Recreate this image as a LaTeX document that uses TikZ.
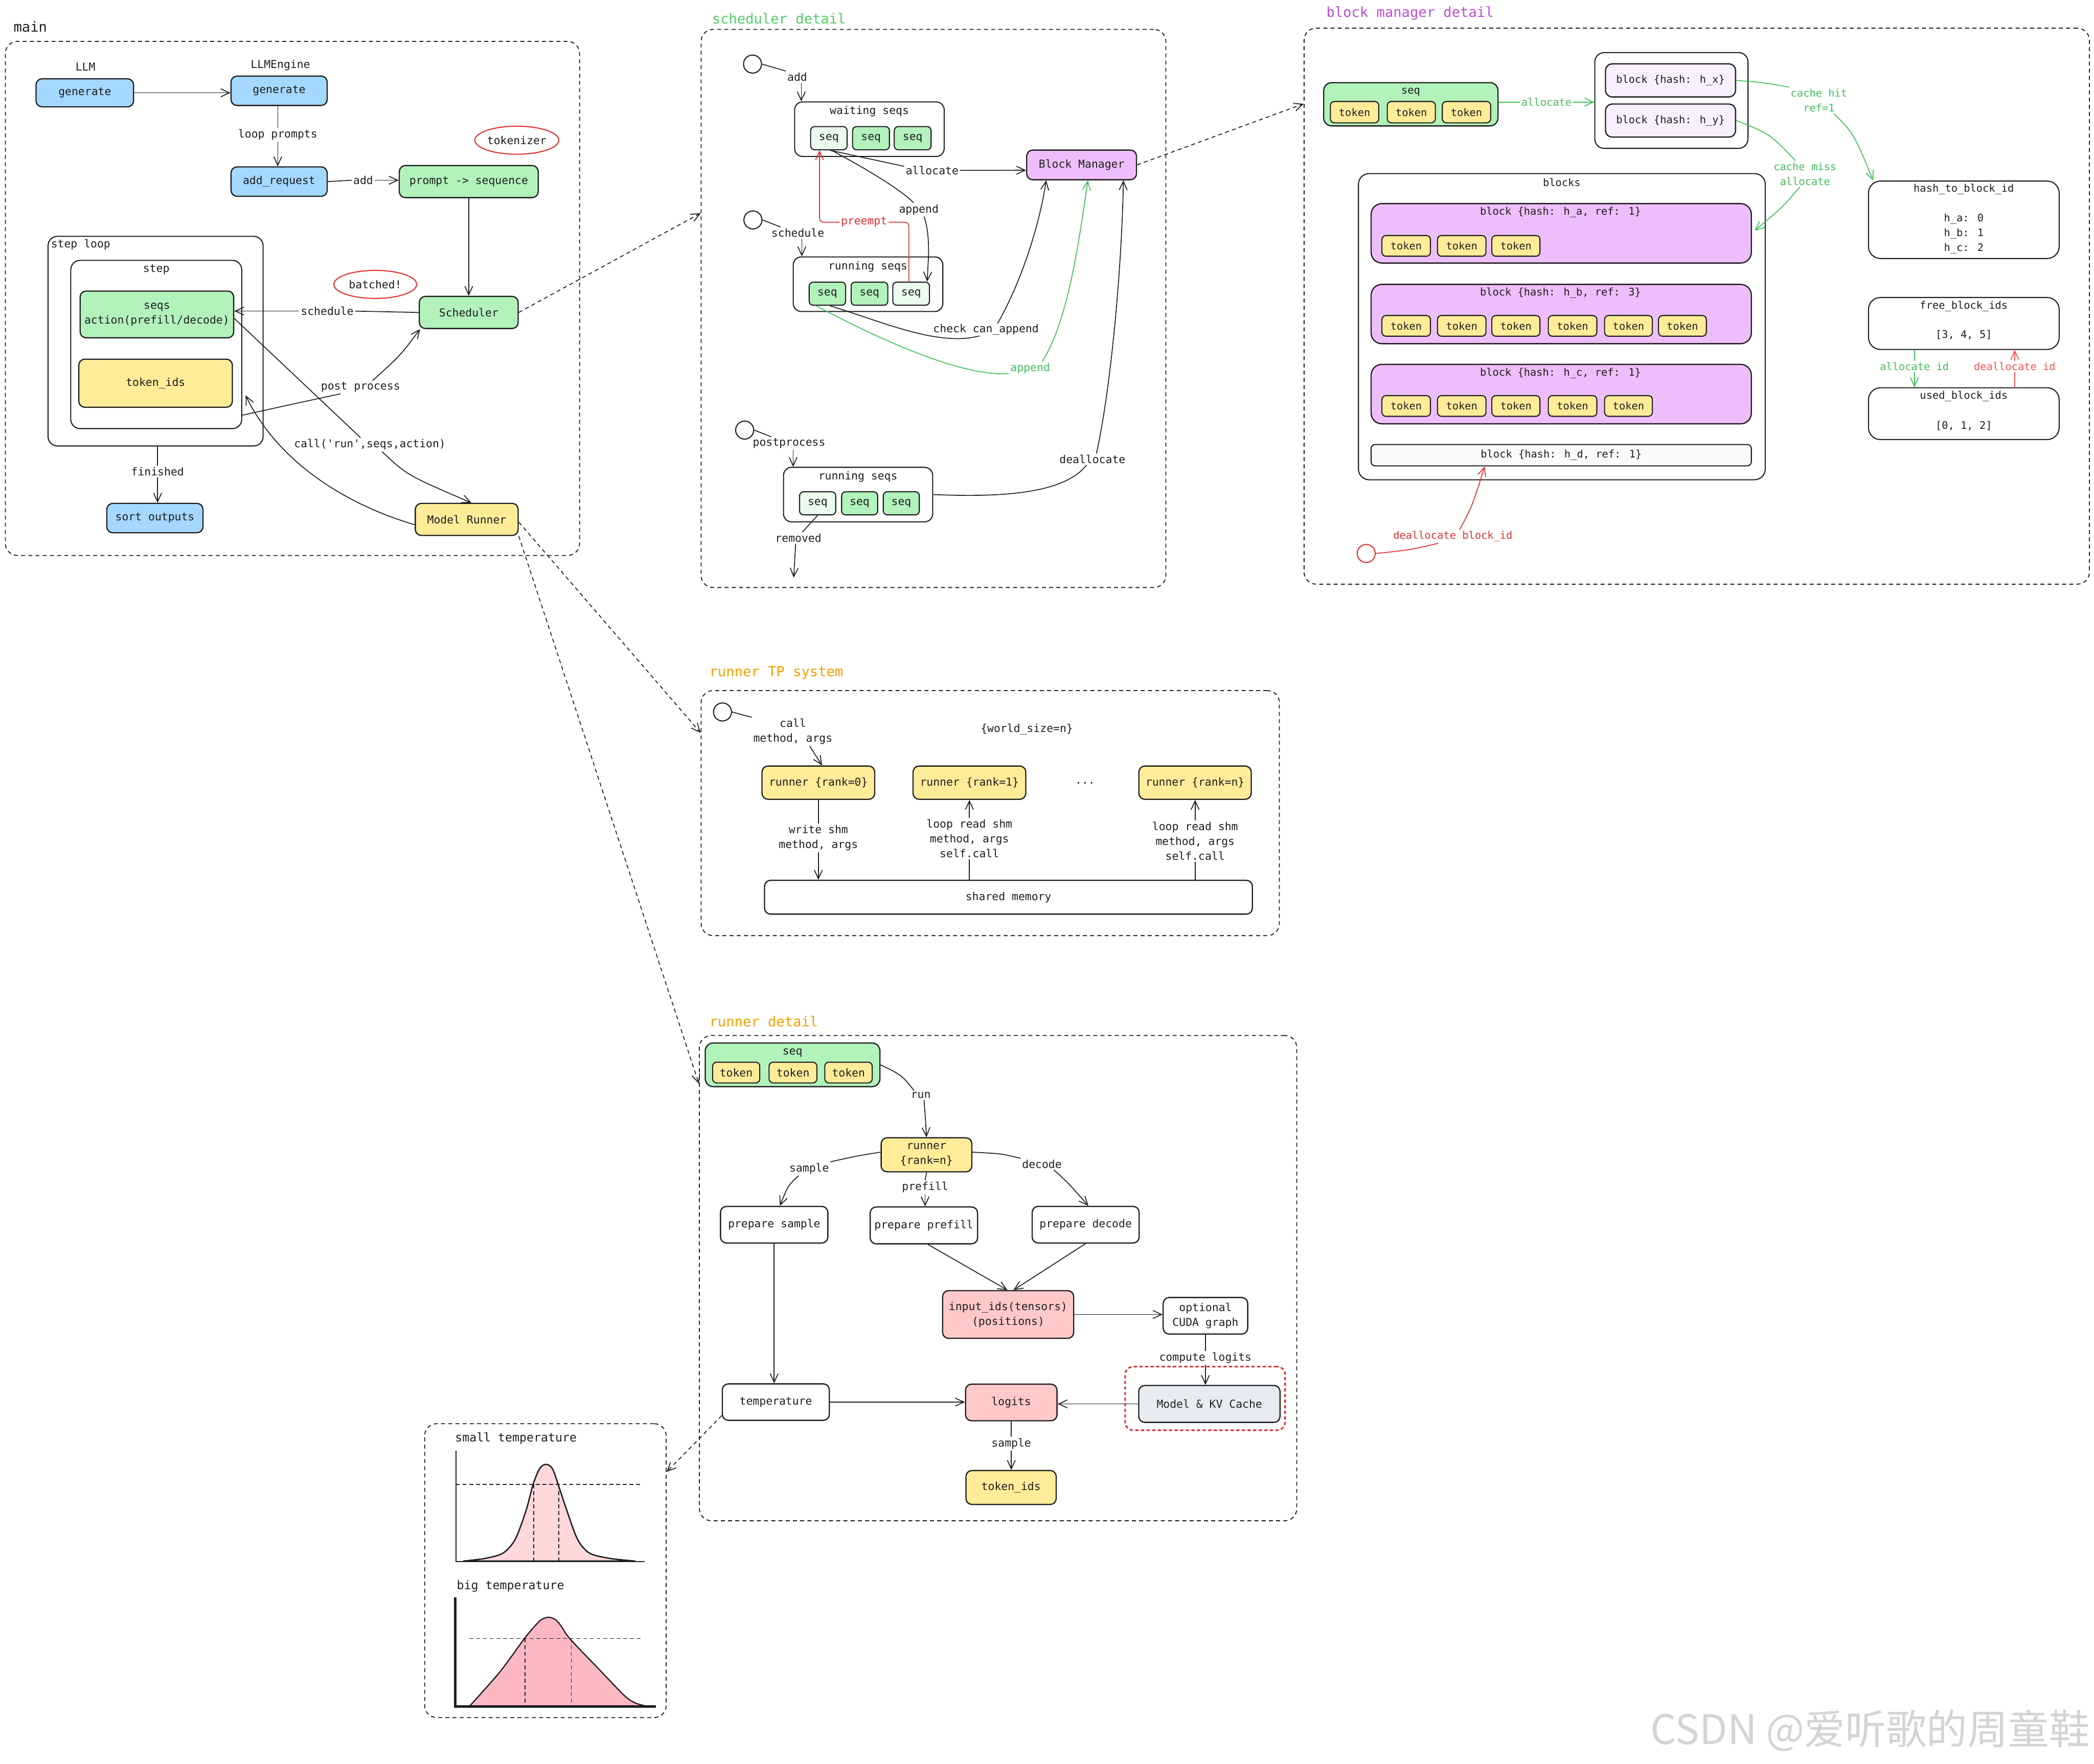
\documentclass[tikz,border=0pt]{standalone}
\usepackage{fontspec}
\setmainfont{DejaVu Sans Mono}
\newfontfamily\cjk{Noto Sans CJK SC}
\usetikzlibrary{arrows.meta,fit,shapes.geometric,calc}
\definecolor{ink}{HTML}{1E1E1E}
\definecolor{cblue}{HTML}{A5D8FF}
\definecolor{cgreenf}{HTML}{B2F2BB}
\definecolor{clgreen}{HTML}{EBFBEE}
\definecolor{cyellow}{HTML}{FFEC99}
\definecolor{cpurple}{HTML}{EEBEFA}
\definecolor{clpurple}{HTML}{F8F0FC}
\definecolor{cpink}{HTML}{FFC9C9}
\definecolor{cgray}{HTML}{E9ECEF}
\definecolor{tgreen}{HTML}{40C057}
\definecolor{tgreenl}{HTML}{51CF66}
\definecolor{tpurple}{HTML}{BE4BDB}
\definecolor{torange}{HTML}{F59F00}
\definecolor{cred}{HTML}{E03131}
\definecolor{cred2}{HTML}{FA5252}
\definecolor{cpinka}{HTML}{FFD8DC}
\definecolor{cpinkb}{HTML}{FBB8C4}
\newcommand\fsMain{\fontsize{8.2}{11.1}\selectfont}
\newcommand\fsBlk{\fontsize{7.8}{11.1}\selectfont}
\newcommand\fsTtl{\fontsize{10.4}{12}\selectfont}
\newcommand\fsTmp{\fontsize{8.9}{11}\selectfont}
% box node from corner coordinates: style, name, x1, y1, x2, y2, text
\newcommand\bx[7]{\node[#1, minimum width={(#5-#3)*1pt}, minimum height={(#6-#4)*1pt}] (#2) at ({(#3+#5)/2},{(#4+#6)/2}) {#7};}
\tikzset{
  box/.style={draw=ink, line width=0.9pt, rounded corners=4.5pt, inner sep=0pt, align=center, font=\fsMain},
  sbox/.style={box, rounded corners=3pt, line width=0.8pt},
  tok/.style={sbox, fill=cyellow},
  tokb/.style={sbox, fill=cyellow, font=\fsBlk},
  grp/.style={draw=ink, line width=0.8pt, rounded corners=8pt, inner sep=0pt},
  cont/.style={draw=ink, line width=0.7pt, dash pattern=on 3pt off 2.4pt, rounded corners=9pt, inner sep=0pt},
  lbl/.style={inner sep=1pt, font=\fsMain, align=center},
  blbl/.style={lbl, font=\fsBlk},
  ttl/.style={anchor=west, inner sep=0pt, font=\fsTtl},
  arr/.style={line width=0.65pt, -{Straight Barb[length=6.5pt,width=6pt]}},
  ln/.style={line width=0.65pt},
  darr/.style={arr, dash pattern=on 3pt off 2.4pt},
  dot/.style={circle, draw=ink, line width=0.8pt, inner sep=0pt, minimum size=13.5pt},
  oval/.style={ellipse, draw=cred, line width=0.8pt, inner sep=0pt, font=\fsMain},
  tdash/.style={line width=0.7pt, dash pattern=on 3pt off 2pt},
}
\begin{document}
\begin{tikzpicture}[x=1pt,y=-1pt,color=ink]
\useasboundingbox (0,0) rectangle (1568,1321);
\fill[white] (0,0) rectangle (1568,1321);

%%%%%%%%%%%%%%%% MAIN
\node[ttl] (tmain) at (10,20) {main};
\node[cont, fit={(4,31)(434,416)}] (mainc) {};
\node[lbl] (llml) at (64,50) {LLM};
\bx{box, fill=cblue}{gen1}{27}{59}{100}{80}{generate}
\node[lbl] (engl) at (210,49) {LLMEngine};
\bx{box, fill=cblue}{gen2}{173}{57}{245}{79}{generate}
\draw[arr] (gen1.east) -- (gen1.east -| gen2.west);
\node[lbl] (loopl) at (208,101) {loop prompts};
\bx{box, fill=cblue}{addreq}{173}{125}{245}{147}{add\_request}
\draw[ln] (loopl.north |- gen2.south) -- (loopl.north);
\draw[arr] (loopl.south) -- (loopl.south |- addreq.north);
\bx{box, fill=cgreenf}{p2s}{299}{124}{403}{148}{prompt -> sequence}
\node[lbl] (addl0) at (272,135) {add};
\draw[ln] (addreq.east) -- (addl0.west);
\draw[arr] (addl0.east) -- (addl0.east -| p2s.west);
\node[oval, minimum width=61pt, minimum height=21pt] (tokz) at (387,105) {tokenizer};
\bx{box, fill=cgreenf}{sched}{314}{222}{388}{246}{Scheduler}
\draw[arr] (p2s.south) -- (p2s.south |- sched.north);
\node[oval, minimum width=62pt, minimum height=21pt] (batch) at (281,213) {batched!};
\node[grp, rounded corners=7pt, fit={(36,177)(197,334)}] (sloop) {};
\node[lbl, anchor=west, inner sep=0pt] (sloopl) at (38,183) {step loop};
\node[grp, rounded corners=7pt, fit={(53,195)(181,321)}] (stp) {};
\node[lbl] (stpl) at (117,202) {step};
\bx{box, fill=cgreenf}{seqs}{60}{218}{175}{253}{seqs\\action(prefill/decode)}
\bx{box, fill=cyellow}{tids}{59}{269}{174}{305}{token\_ids}
\node[lbl] (schl0) at (245,233) {schedule};
\draw[ln] (sched.west) -- (schl0.east);
\draw[arr] (schl0.west) -- (schl0.west -| seqs.east);
\bx{box, fill=cyellow}{mrun}{311}{377}{388}{401}{Model Runner}
\node[lbl] (ppl) at (270,290) {post process};
\draw[ln] ([yshift=-53pt]stp.east) .. controls (222,302) .. ([xshift=-15pt]ppl.south);
\draw[arr] ([xshift=9pt]ppl.north) .. controls (300,266) .. ([xshift=1pt]sched.south west);
\node[lbl] (calll) at (277,333) {call(\textquotesingle run\textquotesingle,seqs,action)};
\draw[ln] ([yshift=-3pt]seqs.east) -- ([xshift=-7pt]calll.north);
\draw[arr] ([xshift=9pt]calll.south) .. controls (305,356) .. ([xshift=3.5pt]mrun.north);
\draw[arr] ([yshift=-4pt]mrun.west) .. controls (250,375) and (205,340) .. ([xshift=2.5pt,yshift=-38pt]stp.east);
\node[lbl] (finl) at (118,353) {finished};
\bx{box, fill=cblue}{sortout}{80}{377}{152}{399}{sort outputs}
\draw[ln] (finl.north |- sloop.south) -- (finl.north);
\draw[arr] (finl.south) -- (finl.south |- sortout.north);

%%%%%%%%%%%%%%%% SCHEDULER DETAIL
\node[ttl, text=tgreenl] (tsd) at (533,14) {scheduler detail};
\node[cont, fit={(525,22)(873,440)}] (sdc) {};
\node[dot] (d1) at (563.5,48) {};
\node[lbl] (addl1) at (597,57.6) {add};
\draw[ln] (d1.east) -- (addl1.north west);
\node[grp, rounded corners=6pt, fit={(595,76.3)(707,117.2)}] (wait) {};
\node[lbl] (waitl) at (651,83.5) {waiting seqs};
\draw[arr] ([xshift=3pt]addl1.south) -- ([xshift=3pt]addl1.south |- wait.north);
\bx{sbox, fill=clgreen}{w1}{607}{94.8}{634.3}{112.2}{seq}
\bx{sbox, fill=cgreenf}{w2}{638.4}{94.8}{666}{112.2}{seq}
\bx{sbox, fill=cgreenf}{w3}{669.6}{94.8}{697.2}{112.2}{seq}
\bx{box, fill=cpurple}{bm}{768.8}{112.4}{851}{134.6}{Block Manager}
\node[lbl] (allocl) at (698,127.6) {allocate};
\draw[ln] ([xshift=1pt]w1.south) -- ([yshift=3pt]allocl.west);
\draw[arr] (allocl.east) -- ([yshift=-4pt]bm.west);
\node[dot] (d2) at (563.8,164.7) {};
\node[lbl] (schl1) at (597.4,174.4) {schedule};
\draw[ln] (d2.east) -- ([xshift=8pt]schl1.north west);
\node[grp, rounded corners=6pt, fit={(594,192.4)(706,233.3)}] (run1) {};
\node[lbl] (run1l) at (649.8,199.7) {running seqs};
\draw[arr] ([xshift=3pt]schl1.south) -- ([xshift=3pt]schl1.south |- run1.north);
\bx{sbox, fill=cgreenf}{r1}{605.9}{211.3}{633.2}{228.6}{seq}
\bx{sbox, fill=cgreenf}{r2}{637.3}{211.3}{664.8}{228.6}{seq}
\bx{sbox, fill=clgreen}{r3}{668.5}{211.3}{696}{228.6}{seq}
\node[lbl] (appl) at (688,157) {append};
\draw[ln] ([xshift=2pt]w1.south) .. controls (648,126) and (676,143) .. ([xshift=-4pt]appl.north);
\draw[arr] ([xshift=4pt]appl.south) .. controls (697,178) and (695,195) .. ([xshift=12pt]r3.north);
\node[lbl, text=cred] (prel) at (647,166.4) {preempt};
\draw[cred, ln, rounded corners=3pt] ([xshift=-1.75pt]r3.north) |- (prel.east);
\draw[arr, cred, rounded corners=3pt] (prel.west) -| ([xshift=-7pt]w1.south);
\draw[arr] ([xshift=2pt]r1.south) .. controls (660,241) and (690,254) .. (718.7,253.6) .. controls (735,253) and (742,249) .. (747.5,241.4) .. controls (765,210) and (778,170) .. ([xshift=-26.5pt]bm.south);
\node[lbl, fill=white, inner sep=0.5pt] (ccl) at (738.3,246.8) {check can\_append};
\node[lbl, text=tgreen] (appg) at (771.4,275.9) {append};
\draw[tgreen, ln] ([xshift=-8.4pt]r1.south) .. controls (660,255) and (720,282) .. ([yshift=-4pt]appg.west);
\draw[arr, tgreen] ([xshift=9pt]appg.north) .. controls (800,240) and (808,180) .. ([xshift=4.7pt]bm.south);
\node[lbl] (deall) at (818,344) {deallocate};
\node[grp, rounded corners=6pt, fit={(586.7,350)(698.4,390.8)}] (run2) {};
\draw[ln] (run2.east) .. controls (740,372) and (795,372) .. ([xshift=-4.5pt]deall.south);
\draw[arr] ([xshift=3pt]deall.north) .. controls (832,290) and (840,200) .. ([xshift=31.3pt]bm.south);
\node[dot] (d3) at (557.6,322.1) {};
\node[lbl] (ppl2) at (590.9,332.1) {postprocess};
\draw[ln] (d3.east) -- ([xshift=15pt]ppl2.north west);
\draw[arr] ([xshift=3pt]ppl2.south) -- ([xshift=3pt]ppl2.south |- run2.north);
\node[lbl] (run2l) at (642.4,356.9) {running seqs};
\bx{sbox, fill=clgreen}{q1}{598.7}{368.3}{625.8}{385.6}{seq}
\bx{sbox, fill=cgreenf}{q2}{630.2}{368.3}{657.2}{385.6}{seq}
\bx{sbox, fill=cgreenf}{q3}{661.4}{368.3}{688.4}{385.6}{seq}
\node[lbl] (reml) at (597.8,402.8) {removed};
\coordinate (remend) at (594.3,432.6);
\draw[ln] (q1.south) -- ([xshift=3pt]reml.north);
\draw[arr] ([xshift=-2pt]reml.south) -- (remend);

%%%%%%%%%%%%%%%% BLOCK MANAGER DETAIL
\node[ttl, text=tpurple] (tbm) at (993,10) {block manager detail};
\node[cont, fit={(976.5,21.1)(1564.5,437.5)}] (bmc) {};
\node[box, fill=cgreenf, rounded corners=6pt, fit={(991.2,61.9)(1121.7,94.3)}] (bseq) {};
\node[blbl] (bseql) at (1056.4,68.9) {seq};
\foreach \i/\xa/\xb in {1/996.2/1032.4, 2/1038.8/1074.8, 3/1080/1116.2}
  {\bx{tokb}{bs\i}{\xa}{76}{\xb}{92}{token}}
\node[grp, rounded corners=7pt, fit={(1194.2,39.4)(1308.9,111.1)}] (cand) {};
\bx{box, fill=clpurple, font=\fsBlk, rounded corners=5pt}{bhx}{1202.2}{47.8}{1299.6}{72.6}{block \{hash: h\_x\}}
\bx{box, fill=clpurple, font=\fsBlk, rounded corners=5pt}{bhy}{1202.2}{77.9}{1299.6}{102.7}{block \{hash: h\_y\}}
\node[blbl, text=tgreen] (allocg) at (1158,76.5) {allocate};
\draw[tgreen, ln] (bseq.east |- allocg.west) -- (allocg.west);
\draw[arr, tgreen] (allocg.east) -- (allocg.east -| cand.west);
\node[grp, rounded corners=8pt, fit={(1017.2,130)(1321.8,359.3)}] (blocks) {};
\node[blbl] (blocksl) at (1169.4,136.5) {blocks};
\node[box, fill=cpurple, rounded corners=8pt, fit={(1026.7,152.5)(1311.4,197)}] (ha) {};
\node[blbl] (hal) at (1168.5,159) {block \{hash: h\_a, ref: 1\}};
\foreach \i/\xa/\xb in {1/1034.8/1071.1, 2/1076.4/1112.7, 3/1117.1/1153.1}
  {\bx{tokb}{hat\i}{\xa}{176.4}{\xb}{191.9}{token}}
\node[box, fill=cpurple, rounded corners=8pt, fit={(1026.7,213)(1311.4,257.4)}] (hb) {};
\node[blbl] (hbl) at (1168.5,219.5) {block \{hash: h\_b, ref: 3\}};
\foreach \i/\xa/\xb in {1/1034.8/1071.1, 2/1076.4/1112.7, 3/1117.1/1153.1, 4/1159.4/1195.7, 5/1201.5/1237.3, 6/1241.9/1277.7}
  {\bx{tokb}{hbt\i}{\xa}{236.3}{\xb}{251.8}{token}}
\node[box, fill=cpurple, rounded corners=8pt, fit={(1026.7,272.9)(1311.4,317.4)}] (hc) {};
\node[blbl] (hcl) at (1168.5,279.4) {block \{hash: h\_c, ref: 1\}};
\foreach \i/\xa/\xb in {1/1034.8/1071.1, 2/1076.4/1112.7, 3/1117.1/1153.1, 4/1159.4/1195.7, 5/1201.5/1237.3}
  {\bx{tokb}{hct\i}{\xa}{296.3}{\xb}{311.8}{token}}
\bx{box, fill=black!2, font=\fsBlk, rounded corners=3pt, line width=0.8pt}{hd}{1026.7}{332.9}{1311.4}{348.9}{block \{hash: h\_d, ref: 1\}}
\node[grp, rounded corners=9pt, fit={(1399.1,135.6)(1541.9,193.6)}] (h2b) {};
\node[blbl] (h2bt) at (1470.5,141.5) {hash\_to\_block\_id};
\node[blbl, align=left] (h2bv) at (1470.5,175) {h\_a: 0\\h\_b: 1\\h\_c: 2};
\node[blbl, text=tgreen] (chit) at (1362,75.1) {cache hit\\ref=1};
\draw[tgreen, ln] (bhx.east) .. controls (1322,62) .. (chit.north west);
\draw[arr, tgreen] ([xshift=11pt]chit.south) .. controls (1388,100) .. ([xshift=4pt]h2b.north west);
\node[blbl, text=tgreen] (cmiss) at (1351.6,130.3) {cache miss\\allocate};
\draw[tgreen, ln] (bhy.east) .. controls (1325,100) .. ([xshift=-7pt]cmiss.north);
\draw[arr, tgreen] ([xshift=-4pt]cmiss.south) .. controls (1335,155) .. ([xshift=2pt,yshift=2pt]ha.east);
\node[grp, rounded corners=9pt, fit={(1399.1,222.8)(1541.9,261.7)}] (fb) {};
\node[blbl] (fbt) at (1470.5,229.3) {free\_block\_ids};
\node[blbl] (fbv) at (1470.5,251) {[3, 4, 5]};
\node[grp, rounded corners=9pt, fit={(1399.1,290.4)(1541.9,329.2)}] (ub) {};
\node[blbl] (ubt) at (1470.5,296.8) {used\_block\_ids};
\node[blbl] (ubv) at (1470.5,318.8) {[0, 1, 2]};
\node[blbl, text=tgreen] (aidl) at (1433.5,274.6) {allocate id};
\draw[tgreen, ln] (aidl.north |- fb.south) -- (aidl.north);
\draw[arr, tgreen] (aidl.south) -- (aidl.south |- ub.north);
\node[blbl, text=cred2] (didl) at (1508.6,274.6) {deallocate id};
\draw[cred2, ln] (didl.south |- ub.north) -- (didl.south);
\draw[arr, cred2] (didl.north) -- (didl.north |- fb.south);
\node[dot, draw=cred] (d4) at (1023,414.5) {};
\node[blbl, text=cred] (dbal) at (1087.9,401.8) {deallocate block\_id};
\draw[cred, ln] (d4.east) .. controls (1055,412) .. ([xshift=-11pt]dbal.south);
\draw[arr, cred] ([xshift=5pt]dbal.north) .. controls (1102,380) .. ([xshift=-57.3pt]hd.south);

%%%%%%%%%%%%%%%% RUNNER TP SYSTEM
\node[ttl, text=torange] (ttp) at (531,504) {runner TP system};
\node[cont, fit={(525,517.2)(958,700.7)}] (tpc) {};
\node[dot] (d5) at (541,533.2) {};
\node[lbl] (calll2) at (593.7,548) {call\\method, args};
\draw[ln] (d5.east) -- (calll2.north west);
\bx{box, fill=cyellow}{rk0}{570.6}{573.7}{655}{598.6}{runner \{rank=0\}}
\bx{box, fill=cyellow}{rk1}{683.7}{573.7}{768.1}{598.6}{runner \{rank=1\}}
\bx{box, fill=cyellow}{rkn}{852.8}{573.7}{936.9}{598.6}{runner \{rank=n\}}
\draw[arr] ([xshift=12.6pt]calll2.south) -- ([xshift=2.8pt]rk0.north);
\node[lbl] (wsl) at (768.9,546.3) {\{world\_size=n\}};
\node[lbl] (dots) at (812.5,586.5) {...};
\bx{box}{shm}{572.5}{659.3}{937.8}{684.6}{shared memory}
\node[lbl] (wrl) at (612.8,627.5) {write shm\\method, args};
\draw[ln] (rk0.south) -- (rk0.south |- wrl.north);
\draw[arr] (wrl.south) -- (wrl.south |- shm.north);
\node[lbl] (lr1) at (725.9,628.1) {loop read shm\\method, args\\self.call};
\draw[ln] (lr1.south |- shm.north) -- (lr1.south);
\draw[arr] (lr1.north) -- (lr1.north |- rk1.south);
\node[lbl] (lrn) at (894.9,630) {loop read shm\\method, args\\self.call};
\draw[ln] (lrn.south |- shm.north) -- (lrn.south);
\draw[arr] (lrn.north) -- (lrn.north |- rkn.south);

%%%%%%%%%%%%%%%% RUNNER DETAIL
\node[ttl, text=torange] (trd) at (531,765) {runner detail};
\node[cont, fit={(523.7,775.5)(971,1138.9)}] (rdc) {};
\node[box, fill=cgreenf, rounded corners=6pt, fit={(528.1,781.1)(658.9,813.8)}] (rseq) {};
\node[lbl] (rseql) at (593.4,788.4) {seq};
\foreach \i/\xa/\xb in {1/533.6/568.9, 2/575.9/611.7, 3/617.6/653.1}
  {\bx{tok}{rt\i}{\xa}{795.5}{\xb}{811}{token}}
\node[lbl] (runl) at (689.5,820.3) {run};
\bx{box, fill=cyellow}{rrun}{659.8}{852.1}{727.7}{877.6}{runner\\\{rank=n\}}
\draw[ln] (rseq.east) .. controls (675,805) .. ([xshift=-5pt]runl.north);
\draw[arr] ([xshift=2.4pt]runl.south) .. controls (693,838) .. (rrun.north);
\node[lbl] (samp1) at (605.9,875.3) {sample};
\bx{box}{psamp}{539.5}{903.5}{619.9}{930.9}{prepare sample}
\bx{box}{ppre}{651.6}{903.9}{732}{931.5}{prepare prefill}
\bx{box}{pdec}{772.9}{903.5}{853}{930.9}{prepare decode}
\draw[ln] ([yshift=2pt]rrun.west) .. controls (640,866) .. (samp1.north east);
\draw[arr] ([xshift=-8pt]samp1.south) .. controls (590,888) .. ([xshift=4.3pt]psamp.north);
\node[lbl] (pfl) at (692.7,889.2) {prefill};
\draw[ln] (rrun.south) -- (pfl.north);
\draw[arr] (pfl.south) -- (pfl.south |- ppre.north);
\node[lbl] (decl) at (780.2,871.8) {decode};
\draw[ln] ([yshift=2pt]rrun.east) .. controls (750,864) .. (decl.north west);
\draw[arr] ([xshift=9pt]decl.south) .. controls (800,886) .. ([xshift=2pt]pdec.north);
\bx{box, fill=cpink}{inp}{705.8}{966.6}{804}{1002.3}{input\_ids(tensors)\\(positions)}
\draw[arr] ([xshift=3pt]ppre.south) -- ([xshift=-0.5pt]inp.north);
\draw[arr] (pdec.south) -- ([xshift=4pt]inp.north);
\bx{box}{opt}{871}{971.7}{934.3}{999.1}{optional\\CUDA graph}
\draw[arr] (inp.east) -- (inp.east -| opt.west);
\node[lbl] (cll) at (902.6,1017) {compute logits};
\node[fit={(842.5,1023.5)(962.3,1071.1)}, draw=cred, line width=1.2pt, dash pattern=on 2.4pt off 1.8pt, rounded corners=6pt, inner sep=0pt] (redb) {};
\bx{box, fill=cgray}{mkv}{852.7}{1037.6}{958.5}{1065.2}{Model \& KV Cache}
\draw[ln] (opt.south) -- (opt.south |- cll.north);
\draw[arr] (cll.south) -- (cll.south |- mkv.north);
\bx{box, fill=cpink}{logit}{723}{1036.6}{791.5}{1064}{logits}
\bx{box}{temp}{540.9}{1036.4}{621}{1063.7}{temperature}
\draw[arr] (mkv.west) -- (mkv.west -| logit.east);
\draw[arr] (temp.east) -- (temp.east -| logit.west);
\draw[arr] (psamp.south) -- (psamp.south |- temp.north);
\node[lbl] (samp2) at (757.25,1081.3) {sample};
\bx{box, fill=cyellow}{tid2}{723.3}{1101.3}{790.9}{1126.7}{token\_ids}
\draw[ln] (logit.south) -- (samp2.north);
\draw[arr] (samp2.south) -- (samp2.south |- tid2.north);

%%%%%%%%%%%%%%%% TEMPERATURE
\node[cont, fit={(318,1066.2)(498.8,1286.3)}] (tc) {};
\node[anchor=west, inner sep=0pt, font=\fsTmp] (smt) at (340.6,1077.4) {small temperature};
\filldraw[fill=cpinka, line width=1pt] plot[smooth, tension=0.55] coordinates {(346.8,1169.1) (362,1167.3) (374.3,1164.3) (380.5,1159.9) (386.7,1151) (394.2,1130.2) (399.2,1111.6) (404.2,1099.7) (408.9,1096.7) (413.5,1099.7) (417.9,1111.6) (424.1,1130.2) (431.6,1151) (437.5,1159.9) (444,1164.3) (458,1167.3) (475.8,1169.1)} -- cycle;
\draw[tdash] (341.3,1111.6) -- (480.7,1111.6);
\draw[tdash] (399.5,1111.6) -- (399.5,1169.6);
\draw[tdash] (418.4,1111.6) -- (418.4,1169.6);
\draw[line width=0.8pt] (341.3,1086.3) -- (341.3,1169.6) -- (482.6,1169.6);
\node[anchor=west, inner sep=0pt, font=\fsTmp] (bgt) at (341.9,1187.9) {big temperature};
\filldraw[fill=cpinkb, line width=0.9pt] plot[smooth, tension=0.5] coordinates {(351.6,1277.8) (374.3,1252.1) (392.7,1227.1) (401.7,1216.4) (406,1212.6) (411,1211.2) (416,1213) (420.4,1218) (426.6,1227.1) (449,1250.6) (467.7,1270) (476,1275.5) (484.5,1277.8)} -- cycle;
\draw[tdash] (351.6,1227.1) -- (480.5,1227.1);
\draw[tdash] (393.2,1227.1) -- (393.2,1278);
\draw[tdash] (427.8,1227.1) -- (427.8,1278);
\draw[line width=1.6pt] (340.9,1196.3) -- (340.9,1278) -- (491,1278);

%%%%%%%%%%%%%%%% DASHED LINKS BETWEEN PANELS
\draw[darr] (sched.east) -- ([yshift=-138pt]sdc.north west);
\draw[darr] (bm.east) -- ([yshift=-57pt]bmc.north west);
\draw[darr] ([yshift=-2pt]mrun.east) -- ([yshift=-32pt]tpc.north west);
\draw[darr] (mrun.south east) -- ([yshift=-36.5pt]rdc.north west);
\draw[darr] ([yshift=4pt]temp.south west) -- ([yshift=-36.5pt]tc.north east);

%%%%%%%%%%%%%%%% WATERMARK
\node[anchor=east, inner sep=0pt, text=black!17, font=\cjk\fontsize{30.5}{31}\selectfont] (wm) at (1565,1296) {CSDN @爱听歌的周童鞋};
\end{tikzpicture}
\end{document}
